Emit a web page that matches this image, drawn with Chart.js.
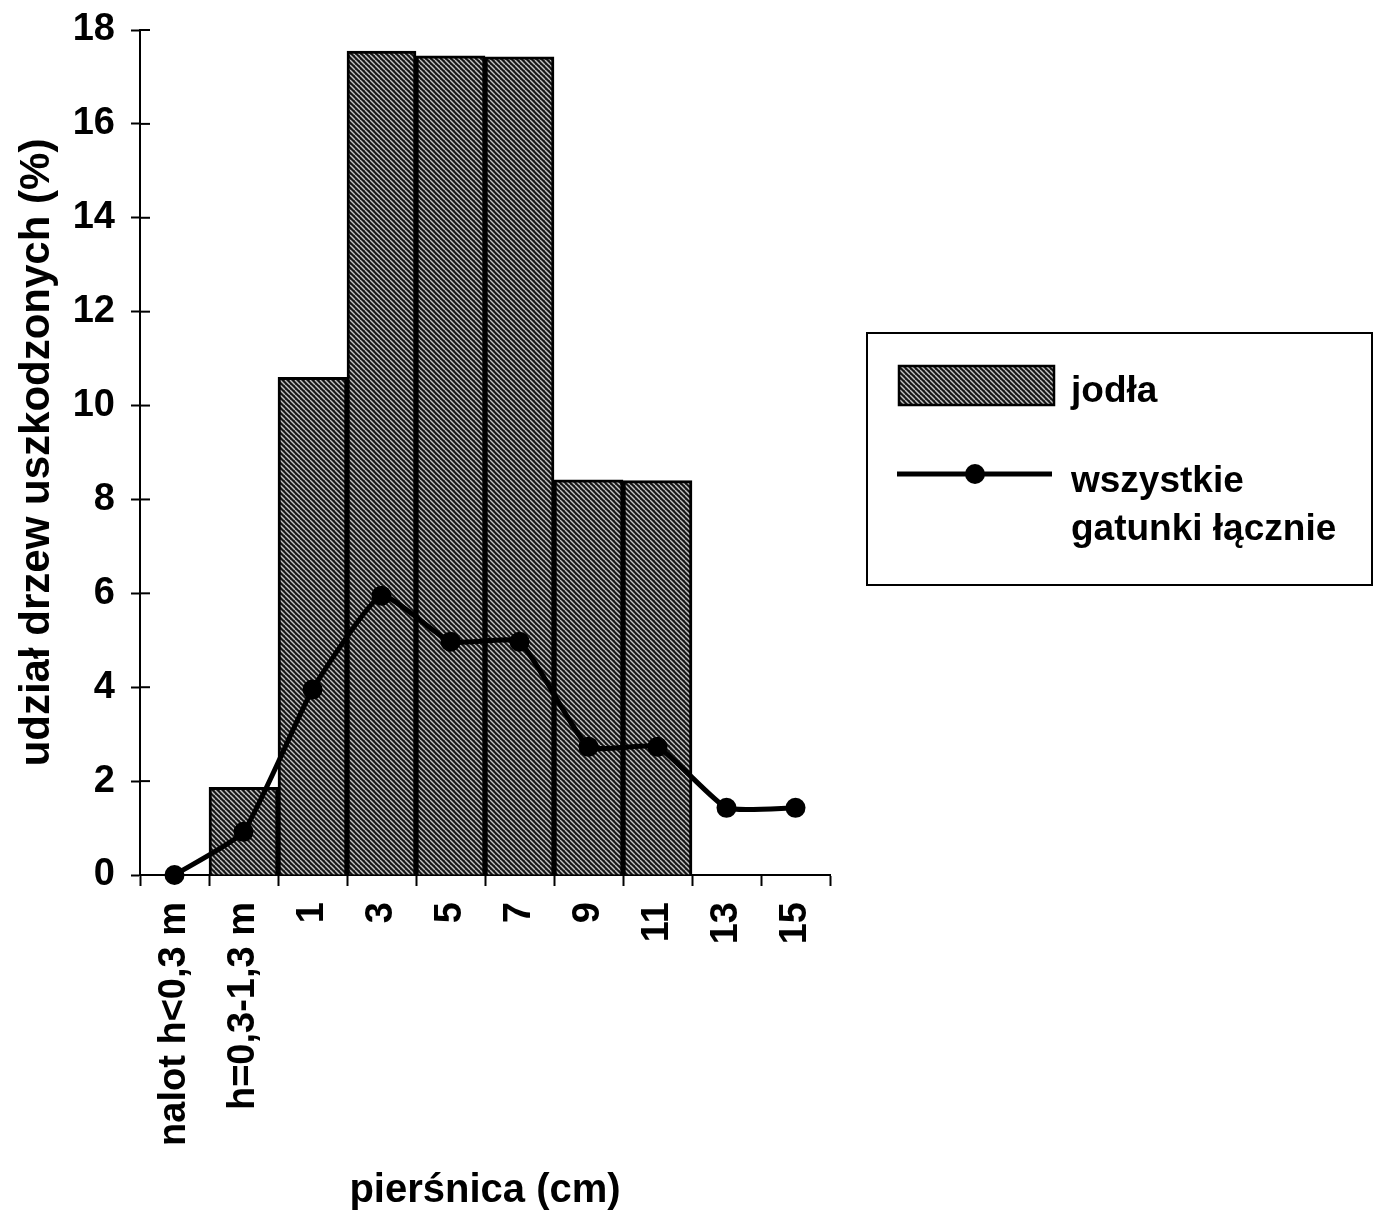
<!DOCTYPE html>
<html lang="pl">
<head>
<meta charset="utf-8">
<title>udział drzew uszkodzonych</title>
<script src="https://cdn.jsdelivr.net/npm/chart.js@4.4.1/dist/chart.umd.min.js"></script>
<style>
    html, body { margin: 0; padding: 0; background: #fff; }
    #chart-container { width: 1380px; height: 1215px; position: relative; }
</style>
</head>
<body>
<div id="chart-container"><canvas id="chart"></canvas></div>
<script>
// diameter classes (first two are seedlings by height)
const categories = ['nalot h<0,3 m', 'h=0,3-1,3 m', '1', '3', '5', '7', '9', '11', '13', '15'];
// share of damaged fir (%)
const firValues = [0, 1.87, 10.6, 17.55, 17.45, 17.43, 8.42, 8.4, 0, 0];
// share of damaged trees, all species (%)
const allSpeciesValues = [0, 0.92, 3.95, 5.95, 4.97, 4.97, 2.73, 2.73, 1.43, 1.43];
const yTicks = [0, 2, 4, 6, 8, 10, 12, 14, 16, 18];

const seriesLabels = ['jodła', ['wszystkie', 'gatunki łącznie']];

const fontFamily = "'Liberation Sans', Arial, Helvetica, sans-serif";

// diagonal hatch used for the fir bars
function makeHatch() {
    const size = 5;
    const tile = document.createElement('canvas');
    tile.width = size;
    tile.height = size;
    const tctx = tile.getContext('2d');
    tctx.fillStyle = '#161616';
    tctx.fillRect(0, 0, size, size);
    tctx.strokeStyle = '#c4c4c4';
    tctx.lineWidth = 1.4;
    [-size, 0, size].forEach(k => {
        tctx.beginPath();
        tctx.moveTo(k, 0);
        tctx.lineTo(k + size, size);
        tctx.stroke();
    });
    return tctx.createPattern(tile, 'repeat');
}

const hatch = makeHatch();

// tick marks on the y axis cross the axis line
const innerTicks = {
    id: 'innerTicks',
    afterDraw(chart) {
        const ctx = chart.ctx;
        const y = chart.scales.y;
        const left = chart.chartArea.left;
        ctx.save();
        ctx.strokeStyle = '#000';
        ctx.lineWidth = 2;
        yTicks.forEach(v => {
            const py = y.getPixelForValue(v);
            ctx.beginPath();
            ctx.moveTo(left, py);
            ctx.lineTo(left + 10, py);
            ctx.stroke();
        });
        ctx.restore();
    }
};

// boxed legend to the right of the plot
const boxLegend = {
    id: 'boxLegend',
    afterDraw(chart) {
        const ctx = chart.ctx;
        const bx = 867, by = 333, bw = 505, bh = 252;
        ctx.save();
        ctx.strokeStyle = '#000';
        ctx.lineWidth = 2;
        ctx.strokeRect(bx, by, bw, bh);

        // bar swatch
        ctx.fillStyle = hatch;
        ctx.fillRect(bx + 32, by + 33, 155, 39);
        ctx.lineWidth = 2.5;
        ctx.strokeRect(bx + 32, by + 33, 155, 39);

        // line swatch
        ctx.lineWidth = 5;
        ctx.beginPath();
        ctx.moveTo(bx + 30, by + 141);
        ctx.lineTo(bx + 185, by + 141);
        ctx.stroke();
        ctx.fillStyle = '#000';
        ctx.beginPath();
        ctx.arc(bx + 108, by + 141, 10, 0, Math.PI * 2);
        ctx.fill();

        ctx.font = "bold 37px " + fontFamily;
        ctx.textBaseline = 'middle';
        ctx.textAlign = 'left';
        ctx.fillText(seriesLabels[0], bx + 204, by + 59);
        ctx.fillText(seriesLabels[1][0], bx + 204, by + 149);
        ctx.fillText(seriesLabels[1][1], bx + 204, by + 197);
        ctx.restore();
    }
};

new Chart(document.getElementById('chart').getContext('2d'), {
    data: {
        labels: categories,
        datasets: [
            {
                type: 'line',
                label: seriesLabels[1].join(' '),
                data: allSpeciesValues,
                borderColor: '#000',
                borderWidth: 5,
                backgroundColor: '#000',
                pointRadius: 10,
                pointBackgroundColor: '#000',
                pointBorderWidth: 0,
                tension: 0.15,
                clip: false,
                order: 0
            },
            {
                type: 'bar',
                label: seriesLabels[0],
                data: firValues,
                backgroundColor: hatch,
                borderColor: '#000',
                borderWidth: 3,
                borderSkipped: 'bottom',
                barPercentage: 1,
                categoryPercentage: 1,
                order: 1
            }
        ]
    },
    options: {
        responsive: true,
        maintainAspectRatio: false,
        animation: false,
        layout: { padding: { top: 30, right: 550, left: 0, bottom: 0 } },
        plugins: {
            legend: { display: false },
            tooltip: { enabled: false }
        },
        scales: {
            x: {
                offset: true,
                grid: {
                    display: true,
                    offset: true,
                    drawOnChartArea: false,
                    drawTicks: true,
                    tickLength: 11,
                    tickWidth: 2,
                    tickColor: '#000'
                },
                border: { display: true, color: '#000', width: 2 },
                ticks: {
                    color: '#000',
                    font: { family: fontFamily, size: 38, weight: 'bold' },
                    minRotation: 90,
                    maxRotation: 90,
                    autoSkip: false,
                    padding: 16
                },
                title: {
                    display: true,
                    text: 'pierśnica (cm)',
                    color: '#000',
                    font: { family: fontFamily, size: 40, weight: 'bold', lineHeight: 1.2 },
                    padding: { top: 0, bottom: 0 }
                },
                afterFit(scale) { scale.height = 340; }
            },
            y: {
                min: 0,
                max: 18,
                afterBuildTicks(scale) { scale.ticks = yTicks.map(v => ({ value: v })); },
                grid: {
                    display: true,
                    drawOnChartArea: false,
                    drawTicks: true,
                    tickLength: 9,
                    tickWidth: 2,
                    tickColor: '#000'
                },
                border: { display: true, color: '#000', width: 2 },
                ticks: {
                    color: '#000',
                    font: { family: fontFamily, size: 38, weight: 'bold' },
                    padding: 16
                },
                title: {
                    display: true,
                    text: 'udział drzew uszkodzonych (%)',
                    color: '#000',
                    font: { family: fontFamily, size: 42, weight: 'bold', lineHeight: 1 },
                    padding: { top: 16, bottom: 0 }
                },
                afterFit(scale) {
                    scale.width = 140;
                    scale.paddingTop = 0;
                    scale.paddingBottom = 0;
                }
            }
        }
    },
    plugins: [innerTicks, boxLegend]
});
</script>
</body>
</html>
